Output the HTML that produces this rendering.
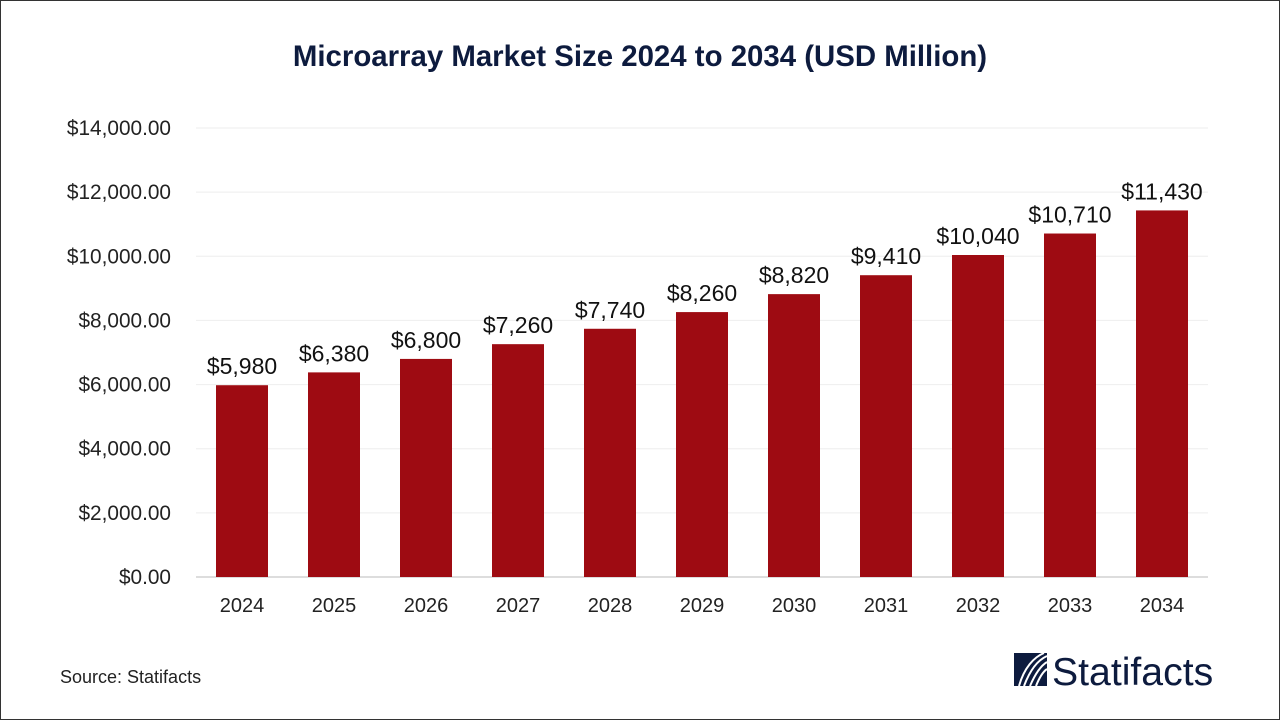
<!DOCTYPE html>
<html><head><meta charset="utf-8"><style>
body{margin:0;width:1280px;height:720px;background:#fff;font-family:"Liberation Sans",sans-serif;overflow:hidden}
#frame{position:absolute;left:0;top:0;width:1278px;height:718px;border:1px solid #333}
</style></head><body>
<div id="frame"></div>
<svg id="c" width="1280" height="720" style="position:absolute;left:0;top:0">
<text x="640" y="66" text-anchor="middle" font-size="29.4" font-weight="bold" fill="#0d1b3e">Microarray Market Size 2024 to 2034 (USD Million)</text>
<g id="grid"></g><g id="bars"></g>
<text x="60" y="683" font-size="18" fill="#222">Source: Statifacts</text>
<g>
<rect x="1014" y="653" width="33" height="33" fill="#0d1b3e"/>
<path d="M1024 686 C1030 670 1038 660 1047 656 M1030 686 C1036 672 1042 665 1047 662 M1036 686 C1040 676 1044 671 1047 669 M1019 686 C1024 668 1034 657 1044 653" stroke="#fff" stroke-width="2" fill="none"/>
<text x="1052" y="685" font-size="39.2" fill="#0d1b3e">Statifacts</text>
</g>
</svg>
<script>
const categories=["2024","2025","2026","2027","2028","2029","2030","2031","2032","2033","2034"];
const values=[5980,6380,6800,7260,7740,8260,8820,9410,10040,10710,11430];
const valueLabels=["$5,980","$6,380","$6,800","$7,260","$7,740","$8,260","$8,820","$9,410","$10,040","$10,710","$11,430"];
const ticks=[0,2000,4000,6000,8000,10000,12000,14000];
const tickLabels=["$0.00","$2,000.00","$4,000.00","$6,000.00","$8,000.00","$10,000.00","$12,000.00","$14,000.00"];
const NS="http://www.w3.org/2000/svg";
const x0=196,x1=1208,y0=577,yTop=128,maxV=14000;
const y=v=>y0-(v/maxV)*(y0-yTop);
const step=(x1-x0)/categories.length;
const xc=i=>x0+step*(i+0.5);
function mk(t,a,p){const e=document.createElementNS(NS,t);for(const k in a)e.setAttribute(k,a[k]);p.appendChild(e);return e;}
const g=document.getElementById('grid'),b=document.getElementById('bars');
ticks.forEach((t,i)=>{
 const l=mk('line',{x1:x0,x2:x1,y1:y(t),y2:y(t),stroke:t===0?'#bbb':'#eee','stroke-width':1},g);
 
 
 const tx=mk('text',{x:171,y:y(t)+7,'text-anchor':'end','font-size':20.8,fill:'#222'},g);
 tx.textContent=tickLabels[i];
 
 
});
categories.forEach((c,i)=>{
 const r=mk('rect',{x:xc(i)-26,y:y(values[i]),width:52,height:y0-y(values[i]),fill:'#9e0b12'},b);
 
 
 const v=mk('text',{x:xc(i),y:y(values[i])-11,'text-anchor':'middle','font-size':23,fill:'#111'},b);
 v.textContent=valueLabels[i];
 
 
 const xl=mk('text',{x:xc(i),y:612,'text-anchor':'middle','font-size':20,fill:'#222'},b);
 xl.textContent=c;
 
 
});
</script>
</body></html>
